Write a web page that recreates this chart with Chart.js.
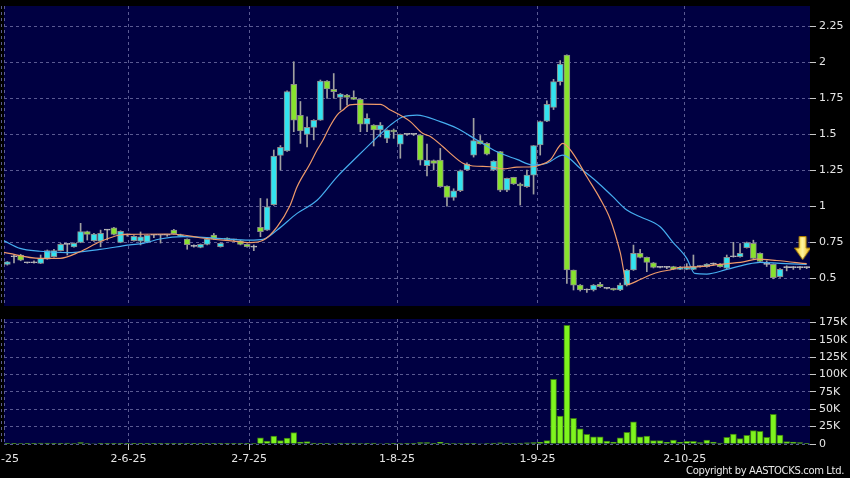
<!DOCTYPE html>
<html>
<head>
<meta charset="utf-8">
<script src="https://cdn.jsdelivr.net/npm/chart.js"></script>
<style>
html,body{margin:0;padding:0;background:#000;}
#wrap{position:relative;width:850px;height:478px;overflow:hidden;background:#000;}
#cPrice{position:absolute;left:0;top:0;}
#cVol{position:absolute;left:0;top:310px;}
#copy{position:absolute;right:6px;top:465px;line-height:12px;color:#e8e8e8;font-family:"DejaVu Sans",sans-serif;font-size:10px;letter-spacing:-0.35px;}
</style>
</head>
<body>
<div id="wrap">
<canvas id="cPrice" width="850" height="312"></canvas>
<canvas id="cVol" width="850" height="168"></canvas>
<div id="copy">Copyright by AASTOCKS.com Ltd.</div>
</div>
<script>
//----------- data -----------//
const candleOpen = [
 .595,.648,.660,.606,.606,.602,.632,.648,.690,.734,
 .717,.748,.822,.759,.757,.833,.849,.748,.800,.760,
 .757,.750,.797,.797,.797,.833,.790,.770,.720,.712,
 .734,.799,.718,.778,.765,.759,.734,.715,.852,.833,
 1.010,1.352,1.382,1.845,1.630,1.498,1.546,1.597,1.868,1.810,
 1.755,1.771,1.755,1.741,1.569,1.562,1.528,1.470,1.528,1.429,
 1.498,1.498,1.493,1.280,1.315,1.319,1.139,1.060,1.106,1.250,
 1.354,1.454,1.435,1.250,1.378,1.111,1.199,1.153,1.134,1.215,
 1.424,1.590,1.685,1.864,2.049,.556,.451,.417,.417,.456,
 .428,.428,.417,.451,.556,.671,.644,.606,.574,.574,
 .579,.560,.560,.560,.579,.579,.597,.595,.568,.648,
 .648,.711,.741,.671,.595,.595,.509,.572,.572,.572,
 .572];
const candleHigh = [
 .615,.660,.665,.610,.620,.660,.695,.700,.740,.738,
 .745,.880,.826,.810,.833,.838,.852,.828,.805,.795,
 .820,.800,.800,.800,.800,.838,.805,.772,.730,.737,
 .775,.810,.745,.780,.770,.762,.737,.730,1.053,1.050,
 1.389,1.420,1.800,2.002,1.726,1.620,1.600,1.875,1.872,1.920,
 1.782,1.775,1.800,1.745,1.640,1.565,1.580,1.530,1.535,1.500,
 1.500,1.500,1.495,1.430,1.320,1.400,1.140,1.120,1.250,1.300,
 1.609,1.490,1.440,1.315,1.380,1.195,1.200,1.160,1.250,1.420,
 1.590,1.730,1.880,2.010,2.050,.556,.455,.425,.455,.470,
 .432,.430,.465,.560,.729,.700,.646,.608,.580,.580,
 .582,.580,.600,.660,.585,.600,.605,.600,.660,.748,
 .740,.750,.763,.675,.620,.598,.565,.585,.580,.580,
 .578];
const candleLow = [
 .590,.605,.620,.603,.603,.600,.630,.645,.688,.660,
 .715,.745,.764,.755,.717,.764,.800,.745,.790,.757,
 .730,.745,.780,.743,.790,.805,.788,.700,.715,.710,
 .730,.768,.715,.765,.760,.730,.715,.690,.787,.830,
 1.005,1.250,1.380,1.516,1.435,1.410,1.460,1.595,1.748,1.748,
 1.667,1.700,1.740,1.516,1.516,1.417,1.480,1.440,1.470,1.332,
 1.490,1.490,1.285,1.210,1.250,1.130,1.000,1.040,1.100,1.245,
 1.340,1.430,1.355,1.245,1.100,1.100,1.150,1.007,1.130,1.083,
 1.354,1.585,1.670,1.840,.463,.417,.410,.400,.410,.435,
 .425,.415,.412,.445,.553,.640,.544,.570,.570,.565,
 .558,.558,.558,.558,.575,.575,.590,.575,.565,.645,
 .645,.708,.635,.610,.580,.495,.505,.550,.560,.560,
 .565];
const candleClose = [
 .612,.648,.625,.606,.606,.637,.690,.690,.734,.734,
 .741,.822,.803,.806,.810,.833,.803,.824,.800,.790,
 .787,.797,.797,.797,.797,.808,.800,.732,.720,.734,
 .771,.770,.742,.768,.765,.734,.718,.715,.822,.995,
 1.347,1.407,1.794,1.597,1.521,1.546,1.595,1.868,1.813,1.794,
 1.778,1.755,1.741,1.569,1.609,1.528,1.562,1.528,1.514,1.498,
 1.498,1.498,1.319,1.319,1.296,1.134,1.060,1.106,1.245,1.292,
 1.454,1.431,1.361,1.313,1.111,1.192,1.153,1.139,1.215,1.419,
 1.586,1.706,1.864,1.986,.556,.451,.417,.417,.451,.440,
 .428,.417,.451,.556,.671,.644,.609,.574,.574,.574,
 .560,.574,.574,.579,.579,.597,.597,.579,.644,.648,
 .671,.746,.637,.615,.595,.502,.560,.572,.572,.572,
 .572];
const volumes = [
 300,200,600,200,300,1500,1200,500,300,1400,
 600,1900,800,700,1000,1000,1100,500,300,200,
 300,500,200,200,300,400,200,300,200,400,
 300,500,400,300,200,300,500,600,9000,4300,
 11500,4800,8600,16300,2900,3400,1200,1000,900,700,
 1200,1000,1500,800,1000,1400,700,600,500,600,
 300,400,2000,2200,900,2400,1000,600,800,500,
 900,700,600,1500,1700,1400,800,1500,1800,1900,
 2400,4800,93000,40300,171000,37000,22000,14000,10500,10500,
 4300,2900,9000,16800,32000,10500,11500,4800,4800,2400,
 5800,2400,3800,3800,1900,5800,2900,1400,9600,14400,
 7700,12500,19200,18200,9600,42700,13000,3400,2900,1900,
 1000];

// moving averages as [bar index, price]
const maShort = [
 [-0.5,0.678],[4.9,0.637],[7.9,0.637],[10.9,0.683],[13.9,0.752],[16.9,0.799],[18.4,0.803],
 [24,0.806],[26.4,0.799],[28.9,0.78],[33.9,0.757],[36.4,0.746],[38.4,0.762],[40.5,0.856],
 [42.4,1.0],[43.5,1.134],[45.4,1.29],[46.5,1.389],[47.4,1.458],[48.4,1.551],[49.5,1.632],
 [50.4,1.667],[51.4,1.703],[53.4,1.708],[56,1.706],[57.5,1.667],[59.4,1.62],[60.5,1.586],
 [62.4,1.503],[63.5,1.483],[65.4,1.412],[66.5,1.366],[68.4,1.297],[69.9,1.278],[72.5,1.273],
 [74.4,1.258],[76.5,1.27],[78.9,1.273],[80,1.285],[81.5,1.32],[83.4,1.435],[84.9,1.366],
 [87,1.203],[89,1.05],[90.5,0.91],[92,0.68],[93.1,0.456],[95,0.49],[96.5,0.521],[98,0.544],
 [99.5,0.556],[101,0.575],[103.5,0.578],[107,0.595],[110.5,0.612],[112.5,0.632],[115.5,0.622],
 [120,0.60]];
const maLong = [
 [-0.5,0.759],[1.9,0.706],[4.9,0.686],[9,0.676],[13.9,0.699],[18.4,0.73],[20.4,0.741],
 [22.9,0.771],[26.4,0.787],[31.5,0.776],[36.4,0.764],[38.4,0.769],[40.5,0.833],[43.5,0.949],
 [46.5,1.04],[49.5,1.203],[52.5,1.342],[55.5,1.477],[57.5,1.562],[59.4,1.62],[61.5,1.632],
 [65,1.586],[67.5,1.54],[70.5,1.458],[73.5,1.377],[76.5,1.324],[78.9,1.285],[81,1.297],
 [83.4,1.354],[86,1.262],[88.5,1.169],[90.9,1.065],[93,0.972],[95,0.926],[98,0.856],
 [99.9,0.75],[102,0.637],[103.2,0.532],[105,0.528],[108,0.56],[111,0.595],[113,0.609],
 [116,0.602],[120,0.595]];

const arrowIdx = 119.4, arrowPrice = 0.708;

const xTickPos = [-0.95, -0.5, 18.2, 36.3, 58.5, 79.6, 101.7];
const xTickLabels = ['2-5-25', '', '2-6-25', '2-7-25', '1-8-25', '1-9-25', '2-10-25'];
const priceTicks = [0.5, 0.75, 1, 1.25, 1.5, 1.75, 2, 2.25];
const priceTickLabels = ['0.5', '0.75', '1', '1.25', '1.5', '1.75', '2', '2.25'];
const volTicks = [0, 25000, 50000, 75000, 100000, 125000, 150000, 175000];
const volTickLabels = ['0', '25K', '50K', '75K', '100K', '125K', '150K', '175K'];

//----------- style -----------//
const GRID = '#5a5a92';
const TXT = '#e6e6e6';
const UP = '#33e3ef', DOWN = '#88e22e', FLAT = '#bdbdbd';
const FONT = {family: 'DejaVu Sans', size: 11};

const idx = candleOpen.map((v, i) => i);
const bodyFill = idx.map(i => candleClose[i] > candleOpen[i] ? UP : (candleClose[i] < candleOpen[i] ? DOWN : FLAT));
const bodyEdge = idx.map(i => candleClose[i] == candleOpen[i] ? FLAT : '#8c8c8c');

const plotBg = {
	id: 'plotBg',
	beforeDraw(chart) {
		const a = chart.chartArea, c = chart.ctx;
		c.save();
		c.fillStyle = '#000042';
		c.fillRect(a.left, a.top, a.right - a.left, a.bottom - a.top);
		c.restore();
	}
};

function makeArrow() {
	const c = document.createElement('canvas');
	c.width = 17; c.height = 24;
	const g = c.getContext('2d');
	const grad = g.createLinearGradient(0, 0, 17, 0);
	grad.addColorStop(0, '#ffd21a');
	grad.addColorStop(0.5, '#fff3a0');
	grad.addColorStop(1, '#f0b000');
	g.fillStyle = grad;
	g.strokeStyle = '#b08000';
	g.lineWidth = 1;
	g.beginPath();
	g.moveTo(5, 0.5); g.lineTo(12, 0.5); g.lineTo(12, 12); g.lineTo(16.5, 12);
	g.lineTo(8.5, 23.5); g.lineTo(0.5, 12); g.lineTo(5, 12);
	g.closePath();
	g.fill(); g.stroke();
	return c;
}

function xScale(showLabels) {
	return {
		type: 'linear', min: -0.5, max: 120.5, offset: false,
		afterBuildTicks: s => { s.ticks = xTickPos.map(v => ({value: v})); },
		afterFit: s => { s.height = showLabels ? 34 : 0; s.paddingLeft = 0; s.paddingRight = 0; },
		grid: {
			offset: false, color: GRID, drawTicks: showLabels, tickLength: 6,
			tickColor: c => c.index < 2 ? 'rgba(0,0,0,0)' : '#c8c8c8'
		},
		border: {display: false, dash: [3, 3]},
		ticks: {
			display: showLabels, autoSkip: false, maxRotation: 0, padding: 3, color: TXT, font: FONT,
			callback: (v, i) => xTickLabels[i]
		}
	};
}

function yScale(min, max, ticks, labels) {
	return {
		type: 'linear', position: 'right', min: min, max: max,
		afterBuildTicks: s => { s.ticks = ticks.map(v => ({value: v})); },
		afterFit: s => { s.width = 40; s.paddingTop = 0; s.paddingBottom = 0; },
		grid: {color: GRID, tickLength: 6, tickColor: '#c8c8c8'},
		border: {display: false, dash: [3, 3]},
		ticks: {padding: 3, color: TXT, font: FONT, callback: (v, i) => labels[i]}
	};
}

const common = {
	responsive: false, animation: false, devicePixelRatio: 1, events: [],
	plugins: {legend: {display: false}, tooltip: {enabled: false}}
};

new Chart(document.getElementById('cPrice').getContext('2d'), {
	type: 'bar',
	data: {
		datasets: [
			{type: 'line', data: [{x: arrowIdx, y: arrowPrice}], showLine: false, pointStyle: makeArrow(), pointRadius: 10, order: -1},
			{type: 'line', data: maShort.map(p => ({x: p[0], y: p[1]})), borderColor: '#ef9a6a', borderWidth: 1.2,
				pointRadius: 0, cubicInterpolationMode: 'monotone', order: 0},
			{type: 'line', data: maLong.map(p => ({x: p[0], y: p[1]})), borderColor: '#46aef0', borderWidth: 1.2,
				pointRadius: 0, cubicInterpolationMode: 'monotone', order: 1},
			{type: 'bar', data: idx.map(i => ({x: i, y: [candleOpen[i], candleClose[i]]})),
				backgroundColor: bodyFill, borderColor: bodyEdge, borderWidth: 1, borderSkipped: false,
				barThickness: 6, minBarLength: 1, grouped: false, order: 2},
			{type: 'bar', data: idx.map(i => ({x: i, y: [candleLow[i], candleHigh[i]]})),
				backgroundColor: '#a0a0a0', borderWidth: 0, barThickness: 1, minBarLength: 1, grouped: false, order: 3}
		]
	},
	options: Object.assign({}, common, {
		layout: {autoPadding: false, padding: {left: 4, top: 6, right: 0, bottom: 6}},
		scales: {
			x: xScale(false),
			y: yScale(0.306, 2.389, priceTicks, priceTickLabels)
		}
	}),
	plugins: [plotBg]
});

new Chart(document.getElementById('cVol').getContext('2d'), {
	type: 'bar',
	data: {
		datasets: [{
			data: idx.map(i => ({x: i, y: volumes[i]})),
			backgroundColor: '#7ef41e', borderColor: '#3b7a14', borderWidth: 1, barThickness: 6
		}]
	},
	options: Object.assign({}, common, {
		layout: {autoPadding: false, padding: {left: 4, top: 9, right: 0, bottom: 0}},
		scales: {
			x: xScale(true),
			y: yScale(0, 180000, volTicks, volTickLabels)
		}
	}),
	plugins: [plotBg]
});
</script>
</body>
</html>
